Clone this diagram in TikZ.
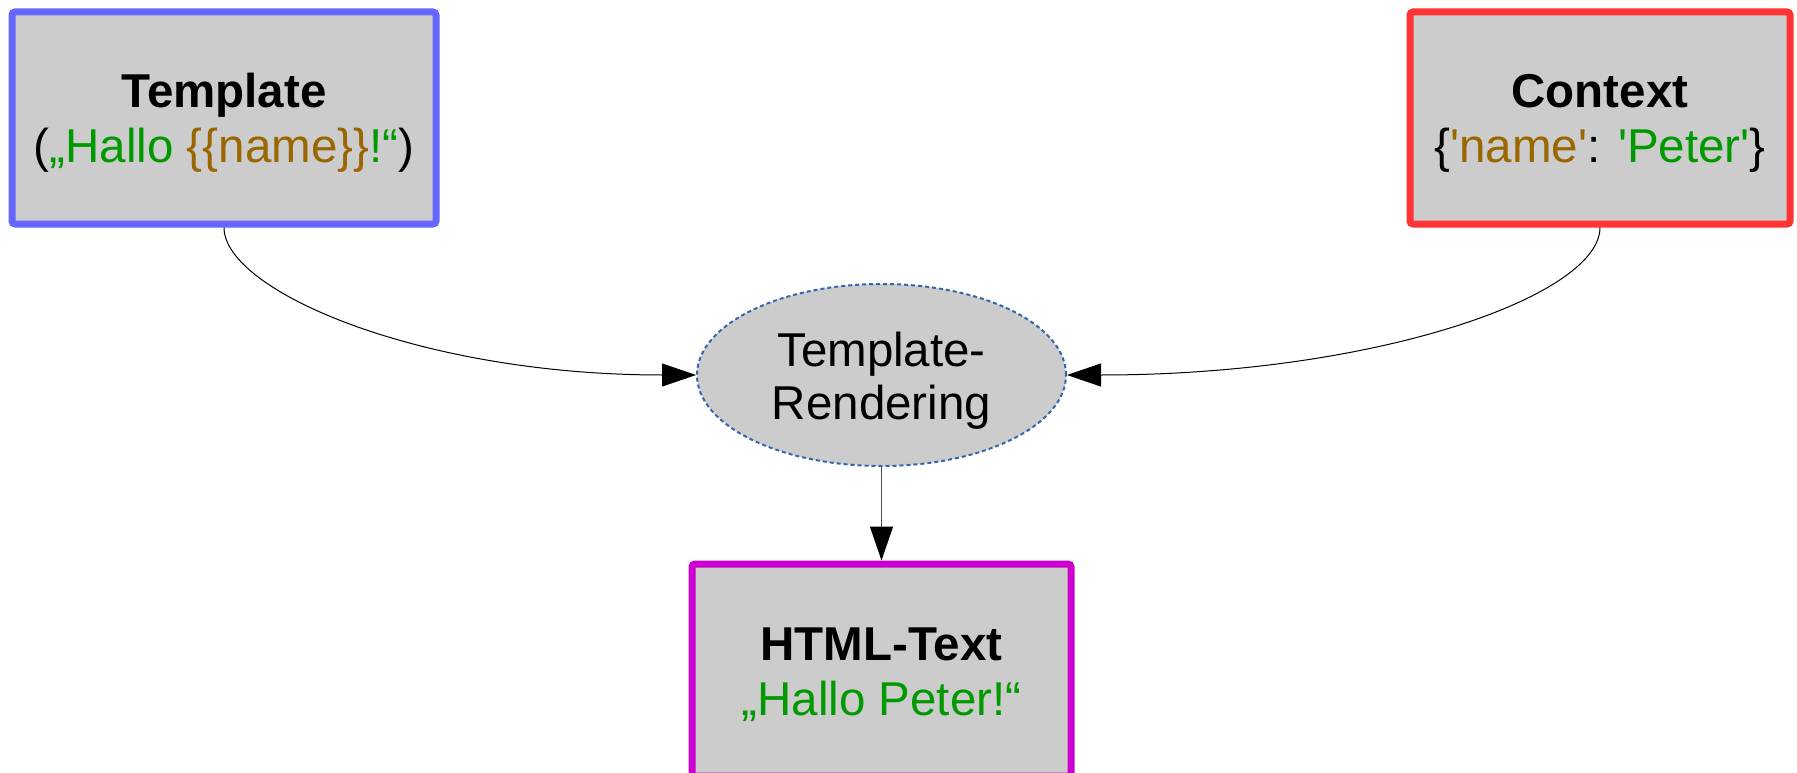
\documentclass[tikz,border=0pt]{standalone}
\usepackage{fontspec}
\setmainfont{Liberation Sans}
\usetikzlibrary{shapes.geometric,arrows.meta}
\definecolor{fillg}{RGB}{204,204,204}
\definecolor{tgreen}{RGB}{0,153,0}
\definecolor{tbrown}{RGB}{153,102,0}
\definecolor{bblue}{RGB}{102,102,255}
\definecolor{bred}{RGB}{255,51,51}
\definecolor{bmag}{RGB}{204,0,204}
\definecolor{eblue}{RGB}{51,102,170}
\begin{document}
\begin{tikzpicture}[x=1pt,y=-1pt,
 box/.style={rectangle, rounded corners=3pt, fill=fillg, line width=7pt, minimum height=212pt, inner sep=0pt, align=center, font=\fontsize{47.5}{55}\selectfont, text height=100pt, text depth=10pt},
 proc/.style={ellipse, fill=fillg, draw=eblue, line width=2pt, dash pattern=on 4pt off 3pt, minimum width=369pt, minimum height=182pt, inner sep=0pt, align=center, font=\fontsize{47.5}{53}\selectfont, text height=98pt, text depth=10pt},
 conn/.style={line width=1pt, -{Triangle[length=34pt,width=23pt,black]}},
]
\clip (0,0) rectangle (1797,773);
\node[box, draw=bblue, minimum width=424pt] (tpl) at (224,118)
  {{\bfseries Template}\\(\textcolor{tgreen}{„Hallo }\textcolor{tbrown}{\{\{name\}\}}\textcolor{tgreen}{!“})};
\node[box, draw=bred, minimum width=380pt] (ctx) at (1600,118)
  {{\bfseries Context}\\\{\textcolor{tbrown}{\textquotesingle name\textquotesingle}: \textcolor{tgreen}{\textquotesingle Peter\textquotesingle}\}};
\node[proc] (rend) at (881.5,375) {Template-\\Rendering};
\node[box, draw=bmag, minimum width=379pt] (html) at (881.5,670)
  {{\bfseries HTML-Text}\\\textcolor{tgreen}{„Hallo Peter!“}};
\draw[conn] (tpl.south) .. controls +(0,63) and +(-277,0) .. (rend.west);
\draw[conn] (ctx.south) .. controls +(0,68) and +(310,0) .. (rend.east);
\draw[conn, draw=black!70, line width=1.2pt] (rend.south) -- (html.north);
\end{tikzpicture}
\end{document}
